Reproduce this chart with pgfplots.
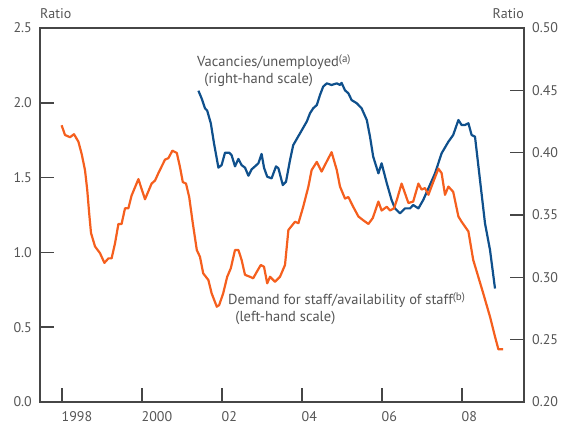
\documentclass[border=0pt]{standalone}
\usepackage{pgfplots}
\pgfplotsset{compat=1.18}
\usepackage{fontspec}
\setmainfont{PT Sans}
\definecolor{boeorange}{RGB}{245,95,30}
\definecolor{boeblue}{RGB}{15,80,140}
\definecolor{axgray}{RGB}{70,70,70}
\definecolor{txtgray}{RGB}{85,85,85}
\newcommand{\sups}[1]{\raisebox{0.55ex}{\fontsize{11}{11}\selectfont #1}}

\pgfplotstableread{
x y
1997.99 1.85
1998.075 1.785
1998.2 1.77
1998.3 1.79
1998.41 1.74
1998.49 1.66
1998.575 1.55
1998.63 1.42
1998.68 1.26
1998.725 1.13
1998.825 1.04
1998.95 0.995
1999.06 0.93
1999.16 0.96
1999.24 0.96
1999.325 1.06
1999.41 1.19
1999.49 1.19
1999.575 1.295
1999.66 1.295
1999.74 1.38
1999.91 1.49
2000.075 1.355
2000.24 1.46
2000.325 1.48
2000.41 1.53
2000.575 1.62
2000.66 1.63
2000.76 1.68
2000.87 1.665
2000.95 1.57
2001.02 1.47
2001.1 1.46
2001.18 1.37
2001.27 1.195
2001.37 1.016
2001.45 0.97
2001.53 0.86
2001.66 0.815
2001.74 0.727
2001.87 0.637
2001.93 0.648
2002.03 0.727
2002.13 0.837
2002.22 0.894
2002.325 1.016
2002.41 1.016
2002.49 0.95
2002.575 0.85
2002.7 0.837
2002.78 0.827
2002.87 0.87
2002.97 0.916
2003.05 0.904
2003.13 0.793
2003.2 0.837
2003.325 0.804
2003.45 0.837
2003.575 0.916
2003.66 1.15
2003.825 1.205
2003.91 1.195
2004.03 1.305
2004.16 1.44
2004.24 1.55
2004.37 1.605
2004.49 1.54
2004.575 1.585
2004.74 1.67
2004.87 1.55
2004.95 1.44
2005.075 1.36
2005.16 1.37
2005.28 1.305
2005.41 1.24
2005.53 1.215
2005.66 1.19
2005.77 1.23
2005.91 1.34
2005.99 1.28
2006.12 1.305
2006.2 1.28
2006.3 1.295
2006.37 1.35
2006.49 1.46
2006.575 1.395
2006.66 1.33
2006.78 1.34
2006.91 1.46
2006.99 1.42
2007.075 1.43
2007.16 1.385
2007.28 1.47
2007.41 1.56
2007.49 1.53
2007.575 1.385
2007.66 1.44
2007.78 1.405
2007.91 1.24
2007.99 1.205
2008.16 1.14
2008.28 0.95
2008.37 0.87
2008.53 0.727
2008.7 0.57
2008.825 0.437
2008.91 0.352
2009.03 0.352
}\demand

\pgfplotstableread{
x y
2001.41 0.4497
2001.49 0.4436
2001.575 0.4356
2001.63 0.4337
2001.72 0.4236
2001.8 0.4075
2001.91 0.388
2001.99 0.390
2002.075 0.400
2002.18 0.400
2002.24 0.398
2002.325 0.389
2002.41 0.395
2002.49 0.390
2002.575 0.388
2002.66 0.3815
2002.74 0.3866
2002.825 0.389
2002.91 0.3915
2002.99 0.399
2003.05 0.388
2003.13 0.3807
2003.24 0.3794
2003.35 0.389
2003.41 0.3875
2003.52 0.374
2003.6 0.3767
2003.7 0.394
2003.78 0.406
2003.95 0.4155
2004.12 0.425
2004.2 0.4316
2004.28 0.4356
2004.37 0.4382
2004.45 0.4463
2004.53 0.453
2004.62 0.4556
2004.74 0.4543
2004.87 0.4556
2004.95 0.4543
2004.99 0.456
2005.075 0.450
2005.16 0.4476
2005.24 0.4422
2005.37 0.4396
2005.49 0.4356
2005.62 0.4262
2005.7 0.4128
2005.78 0.3968
2005.91 0.3834
2005.99 0.3915
2006.12 0.3754
2006.24 0.362
2006.325 0.3553
2006.45 0.3513
2006.575 0.3553
2006.7 0.3553
2006.78 0.358
2006.91 0.3553
2007.03 0.362
2007.16 0.3714
2007.325 0.3834
2007.49 0.3995
2007.66 0.4088
2007.78 0.4142
2007.91 0.4262
2007.99 0.4222
2008.075 0.4222
2008.16 0.4236
2008.24 0.4142
2008.325 0.4128
2008.45 0.378
2008.575 0.3433
2008.7 0.322
2008.825 0.291
}\vacancies

\begin{document}
\begin{tikzpicture}[font=\fontsize{14}{16}\selectfont]
\begin{axis}[
  scale only axis, width=484pt, height=374pt,
  xmin=1997.45, xmax=2009.55,
  ymin=0.2, ymax=0.5,
  axis x line=none, axis y line*=right,
  tick align=inside, major tick length=14pt,
  axis line style={draw=axgray, line width=1.6pt},
  every tick/.style={draw=axgray, line width=1.6pt},
  ytick={0.2,0.25,0.3,0.35,0.4,0.45,0.5},
  yticklabel style={text=txtgray, inner sep=0pt, xshift=8pt, /pgf/number format/fixed, /pgf/number format/fixed zerofill, /pgf/number format/precision=2, /pgf/number format/assume math mode=true},
  clip=false,
]
\addplot[boeblue, line width=2.2pt, line join=round] table[x=x,y=y] {\vacancies};
\pgfplotsinvokeforeach{0.25,0.3,0.35,0.4,0.45}{
  \draw[axgray, line width=1.6pt] (axis cs:2009.55,#1) -- ++(-14pt,0pt);
}
\node[anchor=south east, text=txtgray, inner sep=0pt, yshift=9pt] at (rel axis cs:1,1) {Ratio};
\end{axis}
\begin{axis}[
  scale only axis, width=484pt, height=374pt,
  xmin=1997.45, xmax=2009.55,
  ymin=0, ymax=2.5,
  tick align=inside, major tick length=14pt,
  axis line style={draw=axgray, line width=1.6pt},
  every tick/.style={draw=axgray, line width=1.6pt},
  xtick={1998,2000,2002,2004,2006,2008},
  xticklabels={1998,2000,02,04,06,08},
  ytick={0,0.5,1,1.5,2,2.5},
  xtick pos=lower, ytick pos=lower,
  xticklabel style={text=txtgray, anchor=north west, inner sep=0pt, yshift=-9pt, xshift=-0.5pt},
  yticklabel style={text=txtgray, inner sep=0pt, xshift=-8pt, /pgf/number format/fixed, /pgf/number format/fixed zerofill, /pgf/number format/precision=1, /pgf/number format/assume math mode=true},
  clip=false,
]
\addplot[boeorange, line width=2.2pt, line join=round] table[x=x,y=y] {\demand};
\draw[axgray, line width=1.6pt, line cap=rect] (rel axis cs:0,0) rectangle (rel axis cs:1,1);
\pgfplotsinvokeforeach{1998,2000,2002,2004,2006,2008}{
  \draw[axgray, line width=1.6pt] (axis cs:#1,0) -- ++(0pt,14pt);
}
\pgfplotsinvokeforeach{0.5,1,1.5,2}{
  \draw[axgray, line width=1.6pt] (axis cs:1997.45,#1) -- ++(14pt,0pt);
}
\path (rel axis cs:0,0) ++(-40pt,-23pt);
\path (rel axis cs:1,1) ++(45pt,28pt);
\node[anchor=south west, text=txtgray, inner sep=0pt, yshift=9pt] at (rel axis cs:0,1) {Ratio};
\node[anchor=north west, align=left, text=txtgray, inner sep=0pt, font=\fontsize{14.5}{17}\selectfont] at (axis cs:2001.375,2.32) {Vacancies/unemployed\sups{(a)}\\\hspace{0.5em}(right-hand scale)};
\node[anchor=north west, align=left, text=txtgray, inner sep=0pt, font=\fontsize{14.5}{17}\selectfont] at (axis cs:2002.15,0.735) {Demand for staff/availability of staff\sups{(b)}\\\hspace{0.5em}(left-hand scale)};
\end{axis}
\end{tikzpicture}
\end{document}
